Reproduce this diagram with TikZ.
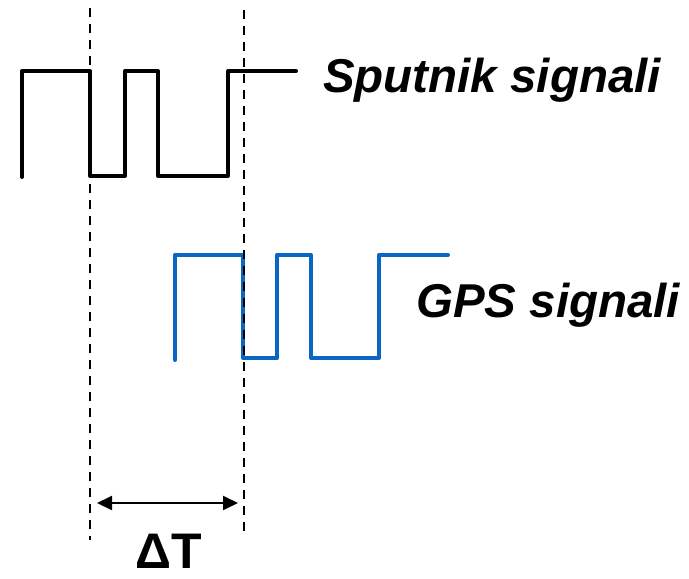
\documentclass[tikz,border=0pt]{standalone}
\usepackage{fontspec}
\setmainfont{Liberation Sans}
\usepackage{xcolor}
\usetikzlibrary{arrows.meta,positioning}
\definecolor{gpsblue}{RGB}{10,102,196}
\begin{document}
\begin{tikzpicture}[
    x=1pt, y=-1pt,
    signal/.style={line width=4pt, line join=round, line cap=round},
    marker/.style={line width=1.8pt, dash pattern=on 9pt off 7pt},
    sig label/.style={font=\fontsize{47.5}{52}\selectfont\bfseries\itshape,
                      anchor=base west, inner sep=0pt},
    >={Triangle[length=15pt, width=14pt]},
    ]
\useasboundingbox (0,0) rectangle (689,579);

% satellite signal
\draw[signal] (22,177) -- (22,71) -- (90,71) -- (90,176) -- (125,176) -- (125,71)
      -- (158,71) -- (158,176) -- (228,176) -- (228,71) -- (296,71);
\node[sig label] (sput) at (323,92) {Sputnik signali};

% receiver (GPS) signal, shifted by the delay
\draw[signal, gpsblue] (175,360) -- (175,255) -- (243,255) -- (243,358) -- (277,358)
      -- (277,255) -- (311,255) -- (311,358) -- (379,358) -- (379,255) -- (448,255);
\node[sig label] (gps) at (416,317) {GPS signali};

% delay markers
\coordinate (ltop) at (90,8);
\coordinate (lbot) at (90,540);
\coordinate (rtop) at (244,10);
\coordinate (rbot) at (244,535);
\draw[marker] (ltop) -- (lbot);
\draw[marker] (rtop) -- (rbot);

\coordinate (la) at (97,503);
\coordinate (ra) at (238,503);
\draw[<->, line width=2pt] (la) -- (ra);
\node[font=\fontsize{50}{54}\selectfont\bfseries, anchor=base, inner sep=0pt]
     (dt) at (169,568) {ΔT};
\end{tikzpicture}
\end{document}
